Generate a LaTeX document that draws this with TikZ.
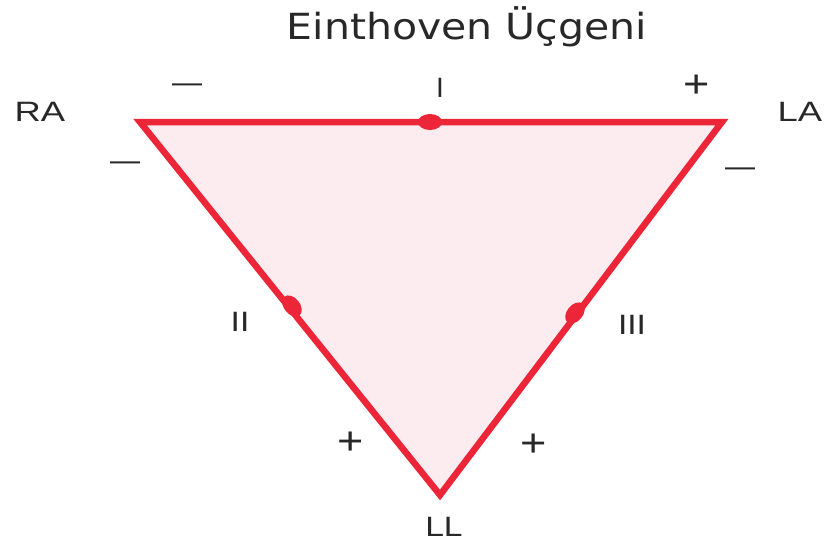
\documentclass[tikz,border=0pt]{standalone}
\usepackage{fontspec}
\setmainfont{Liberation Sans}
\newfontfamily\titlefont{DejaVu Sans}
\usetikzlibrary{shapes.geometric}
\definecolor{tri}{RGB}{236,38,56}
\definecolor{trifill}{RGB}{252,236,240}
\definecolor{lbl}{RGB}{40,40,40}
\begin{document}
\begin{tikzpicture}[x=1pt,y=-1pt,
  lab/.style={text=lbl,font=\fontsize{28}{28}\selectfont,inner sep=0pt},
  sgn/.style={text=lbl,font=\fontsize{30}{30}\selectfont,inner sep=0pt},
  edge/.style={draw=tri,line width=6.5pt,line join=miter},
  elec/.style={ellipse,fill=tri,minimum width=24pt,minimum height=16pt,inner sep=0pt}]
\useasboundingbox (0,0) rectangle (831,547);
\fill[white] (0,0) rectangle (831,547);
\coordinate (ra) at (140,122);
\coordinate (la) at (722,122);
\coordinate (ll) at (440,495);
\fill[trifill] (ra) -- (la) -- (ll) -- cycle;
\draw[edge] (ra) -- (la) -- (ll) -- cycle;
\node[elec] (e1) at (430,122) {};
\node[elec,rotate=-51] (e2) at (292,306) {};
\node[elec,rotate=51] (e3) at (575,313) {};
\node[text=lbl,inner sep=0pt] (title) at (467,27) {\titlefont\fontsize{36}{36}\selectfont\scalebox{1.14}[1]{Einthoven Üçgeni}};
\node[lab] (tra) at (40,112) {\scalebox{1.3}[1]{RA}};
\node[lab] (tla) at (800,112) {\scalebox{1.3}[1]{LA}};
\node[lab] (tI) at (440,88) {I};
\node[lab] (tII) at (240,322) {\scalebox{1.2}[1]{II}};
\node[lab] (tIII) at (632,325) {\scalebox{1.2}[1]{III}};
\node[lab] (tLL) at (444,527) {\scalebox{1.2}[1]{LL}};
\node[sgn] (m1) at (187,88) {\textemdash};
\node[sgn] (m2) at (125,166) {\textemdash};
\node[sgn] (m3) at (740,172) {\textemdash};
\node[sgn] (p1) at (697,86) {\scalebox{1.5}[1.3]{+}};
\node[sgn] (p2) at (351,443) {\scalebox{1.5}[1.3]{+}};
\node[sgn] (p3) at (534,445) {\scalebox{1.5}[1.3]{+}};
\end{tikzpicture}
\end{document}
